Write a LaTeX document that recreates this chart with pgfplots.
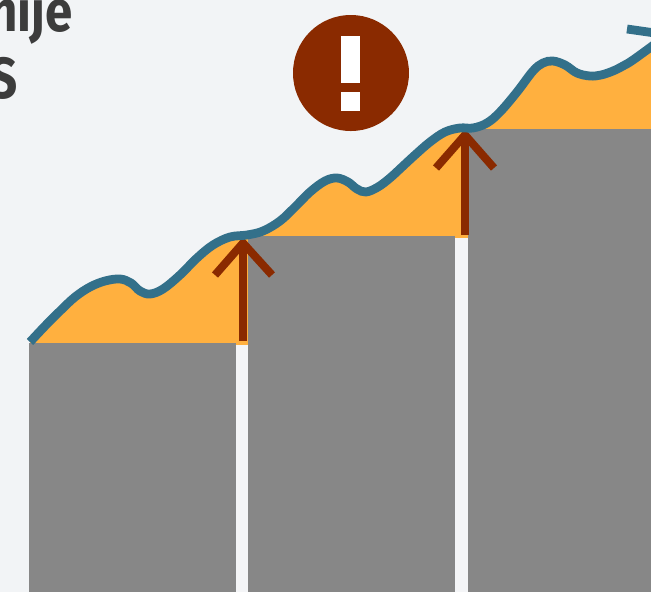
\documentclass[border=0pt]{standalone}
\usepackage{pgfplots}
\pgfplotsset{compat=1.18}
\usepackage{fontspec}
\setmainfont{Fira Sans}[BoldFont=* Bold]
\definecolor{bgc}{HTML}{F2F4F6}
\definecolor{gapc}{HTML}{F4F5F7}
\definecolor{barc}{HTML}{878787}
\definecolor{orc}{HTML}{FFB03F}
\definecolor{tealc}{HTML}{33708A}
\definecolor{redc}{HTML}{8A2A00}
\definecolor{txtc}{HTML}{3C3C3C}
\begin{document}
\begin{tikzpicture}
\useasboundingbox (0,0) rectangle (651pt,592pt);
\clip (0,0) rectangle (651pt,592pt);
\begin{axis}[
  at={(0,0)}, anchor=south west,
  scale only axis, width=651pt, height=592pt,
  xmin=0, xmax=651, ymin=0, ymax=592, y dir=reverse,
  axis lines=none, clip=true,
]
% background
\addplot[draw=none, fill=bgc] coordinates {(0,0)(651,0)(651,592)(0,592)} -- cycle;
% orange area below the curve
\addplot[draw=none, fill=orc] coordinates {
(30,342)(45,326)(60,311)(75,297)(90,287)(105,281)(120,279)(131,283)(140,291)(150,294)(163,289)(180,275)(197,258)(213,245)(230,237)(247,235)(263,231)(280,221)(295,207)(310,192)(325,181)(337,178)(348,182)(357,189)(366,192)(378,187)(390,178)(402,167)(415,155)(430,142)(445,132)(460,128)(473,128)(487,123)(500,112)(517,92)(533,71)(543,63)(553,61)(565,65)(577,73)(590,76)(601,75)(613,71)(623,66)(633,60)(655,44)(655,345)(30,345)} -- cycle;
% bars
\addplot[draw=none, fill=barc] coordinates {(29,343)(236,343)(236,592)(29,592)} -- cycle;
\addplot[draw=none, fill=barc] coordinates {(248,236)(455,236)(455,592)(248,592)} -- cycle;
\addplot[draw=none, fill=barc] coordinates {(468,129)(651,129)(651,592)(468,592)} -- cycle;
% gaps
\addplot[draw=none, fill=gapc] coordinates {(236,344.5)(248,344.5)(248,592)(236,592)} -- cycle;
\addplot[draw=none, fill=gapc] coordinates {(455,237.5)(468,237.5)(468,592)(455,592)} -- cycle;
% arrows
\addplot[redc, line width=8pt] coordinates {(243,341)(243,244)};
\addplot[redc, line width=8pt, miter limit=10] coordinates {(215,275)(243,243)(272,275)};
\addplot[redc, line width=8pt] coordinates {(464.5,235)(464.5,137)};
\addplot[redc, line width=8pt, miter limit=10] coordinates {(436,168)(465,135)(494,168)};
% curve
\addplot[tealc, line width=8.8pt, smooth, tension=0.6] coordinates {
(30,342)(45,326)(60,311)(75,297)(90,287)(105,281)(120,279)(131,283)(140,291)(150,294)(163,289)(180,275)(197,258)(213,245)(230,237)(247,235)(263,231)(280,221)(295,207)(310,192)(325,181)(337,178)(348,182)(357,189)(366,192)(378,187)(390,178)(402,167)(415,155)(430,142)(445,132)(460,128)(473,128)(487,123)(500,112)(517,92)(533,71)(543,63)(553,61)(565,65)(577,73)(590,76)(601,75)(613,71)(623,66)(633,60)(655,44)};
\addplot[tealc, line width=8.8pt] coordinates {(627,29)(655,33)};
% warning sign: a dot drawn as a round-capped stroke, so the white mark can lie above it
\addplot[redc, line width=116pt, line cap=round] coordinates {(350.5,73)(350.5,73.01)};
\addplot[draw=none, fill=white] coordinates {(341,36)(360,36)(360,83)(341,83)} -- cycle;
\addplot[draw=none, fill=white] coordinates {(341,92)(360,92)(360,111)(341,111)} -- cycle;
% title fragments
\node[anchor=base east, inner sep=0pt, text=txtc, font=\fontsize{58}{58}\selectfont\bfseries] at (axis cs:73,31) {\scalebox{0.85}[1]{nije}};
\node[anchor=base east, inner sep=0pt, text=txtc, font=\fontsize{58}{58}\selectfont\bfseries] at (axis cs:18,98) {\scalebox{0.85}[1]{S}};
\end{axis}
\end{tikzpicture}
\end{document}
